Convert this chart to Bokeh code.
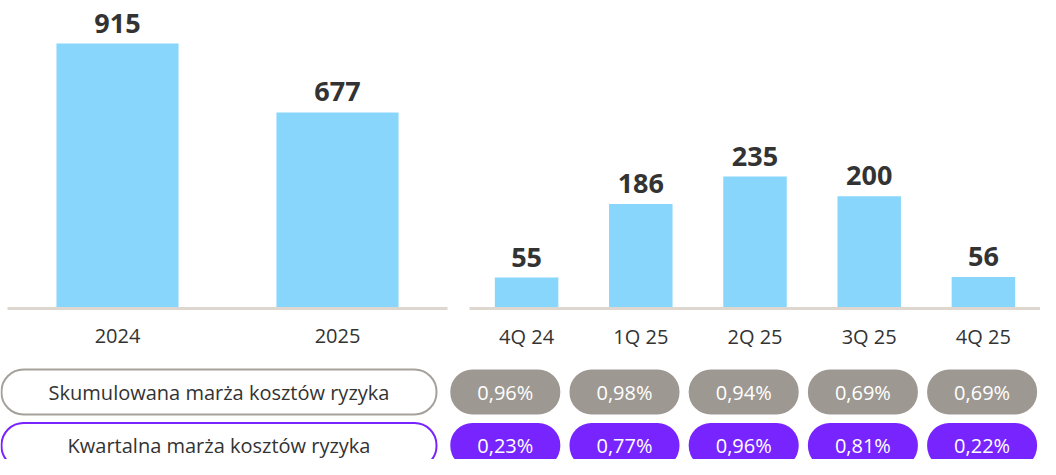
from bokeh.plotting import figure
from bokeh.models import ColumnDataSource, FactorRange, Range1d, LabelSet
from bokeh.layouts import column, row
from bokeh.embed import file_html
from bokeh.resources import INLINE
from bokeh.core.properties import value

# ---- data ----
years = ["2024", "2025"]
year_values = [915, 677]
quarters = ["4Q 24", "1Q 25", "2Q 25", "3Q 25", "4Q 25"]
quarter_values = [55, 186, 235, 200, 56]
row_labels = ["Skumulowana marża kosztów ryzyka", "Kwartalna marża kosztów ryzyka"]
cum_margin = ["0,96%", "0,98%", "0,94%", "0,69%", "0,69%"]
q_margin = ["0,23%", "0,77%", "0,96%", "0,81%", "0,22%"]

# ---- style ----
BAR = "#89D6FD"
AXIS = "#DDD7D0"
TEXT = "#333333"
GRAY = "#9E9892"
GRAY_LINE = "#A6A09A"
PURPLE = "#7724FF"
FONT = "Open Sans"
TOP_H = 362
FRAME_H = 308


def bar_fig(cats, vals, width, left_pad, right_pad, ymax, bar_w, standoff):
    src = ColumnDataSource(dict(cat=cats, val=vals, lab=[str(v) for v in vals]))
    p = figure(x_range=FactorRange(factors=cats, range_padding=0),
               y_range=Range1d(0, ymax), width=width, height=TOP_H,
               output_backend="svg", toolbar_location=None,
               min_border_left=left_pad, min_border_right=right_pad,
               min_border_top=0, min_border_bottom=TOP_H - FRAME_H)
    p.vbar(x="cat", top="val", width=bar_w, source=src, fill_color=BAR, line_color=None)
    p.add_layout(LabelSet(x="cat", y="val", text="lab", source=src,
                          text_align="center", text_baseline="alphabetic", y_offset=11,
                          text_font=value(FONT), text_font_style="bold",
                          text_font_size="27px", text_color=TEXT))
    p.yaxis.visible = False
    p.xgrid.grid_line_color = None
    p.ygrid.grid_line_color = None
    p.outline_line_color = None
    ax = p.xaxis[0]
    ax.axis_line_color = AXIS
    ax.axis_line_width = 3
    ax.major_tick_line_color = None
    ax.minor_tick_line_color = None
    ax.major_tick_out = 0
    ax.major_tick_in = 0
    ax.major_label_standoff = standoff
    ax.major_label_text_font = FONT
    ax.major_label_text_font_size = "20px"
    ax.major_label_text_color = TEXT
    p.background_fill_color = "white"
    p.border_fill_color = "white"
    return p


left = bar_fig(years, year_values, 458, 7, 11, FRAME_H * 915 / 265, 0.555, 20)
right = bar_fig(quarters, quarter_values, 582, 11, 0, FRAME_H * 235 / 132, 0.556, 14)

# ---- pill rows ----
PW, PH = 1040, 97
X0, STEP = 504.8, 119.2       # first value pill centre / spacing (px)
ROW0, RSTEP = 29.5, 53.5      # first row centre / row spacing (px)
pills = figure(width=PW, height=PH, output_backend="svg", toolbar_location=None,
               x_range=Range1d(-X0 / STEP, (PW - X0) / STEP),
               y_range=Range1d((PH - ROW0) / RSTEP, -ROW0 / RSTEP),
               min_border=0)
pills.axis.visible = False
pills.grid.grid_line_color = None
pills.outline_line_color = None

pw = 110 / STEP
ph = 45 / RSTEP
xs = list(range(len(quarters)))
for r, (vals, col) in enumerate([(cum_margin, GRAY), (q_margin, PURPLE)]):
    src = ColumnDataSource(dict(x=xs, l=[i - pw / 2 for i in xs], r=[i + pw / 2 for i in xs],
                                t=[r - ph / 2] * len(xs), b=[r + ph / 2] * len(xs), txt=vals))
    pills.quad(left="l", right="r", top="t", bottom="b", source=src,
               fill_color=col, line_color=None, border_radius=22)
    pills.text(x="x", y=r, text="txt", source=src, text_align="center",
               text_baseline="middle", text_font=value(FONT), text_font_size="20px",
               text_color="white")

lab_l = (1 - X0) / STEP
lab_r = (436 - X0) / STEP
for r, (lab, col) in enumerate(zip(row_labels, [GRAY_LINE, PURPLE])):
    pills.quad(left=[lab_l], right=[lab_r], top=[r - ph / 2], bottom=[r + ph / 2],
               fill_color="white", line_color=col, line_width=2, border_radius=22)
    pills.text(x=[(lab_l + lab_r) / 2], y=[r], text=[lab], text_align="center",
               text_baseline="middle", text_font=value(FONT), text_font_size="20px",
               text_color=TEXT)

layout = column(row(left, right, spacing=0), pills, spacing=0)
open("out.html", "w").write(file_html(layout, INLINE))
